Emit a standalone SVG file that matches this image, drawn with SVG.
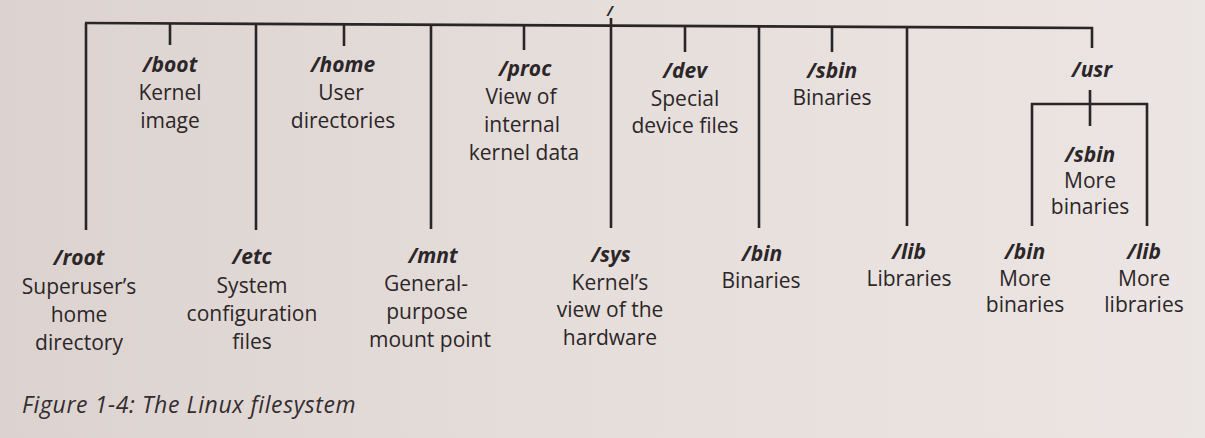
<svg xmlns="http://www.w3.org/2000/svg" width="1205" height="438" viewBox="0 0 1205 438">
  <defs>
    <linearGradient id="paper" x1="0" y1="0" x2="1" y2="0">
      <stop offset="0" stop-color="#dcd3d0"/>
      <stop offset="0.5" stop-color="#e6dedb"/>
      <stop offset="1" stop-color="#ebe5e3"/>
    </linearGradient>
    <style>
      .wire { stroke: #2a2628; stroke-width: 2.6; fill: none; stroke-linecap: butt; }
      text { font-family: "Open Sans", "Liberation Sans", sans-serif; fill: #2b2628; text-anchor: middle; }
      .name { font-weight: bold; font-style: italic; font-size: 21px; }
      .rootname { font-weight: bold; font-style: italic; font-size: 14px; }
      .desc { font-size: 21px; }
      .caption { font-style: italic; font-size: 23px; letter-spacing: 0.6px; text-anchor: start; fill: #332d2f; }
    </style>
  </defs>

  <rect x="0" y="0" width="1205" height="438" fill="url(#paper)"/>

  <!-- tree connectors -->
  <g id="connectors">
    <!-- root stem and main bar -->
    <line class="wire" x1="611" y1="18" x2="611" y2="27"/>
    <line class="wire" x1="85" y1="23" x2="1093" y2="28"/>
    <!-- long drops to the lower row -->
    <line class="wire" x1="86" y1="23" x2="86" y2="230"/>
    <line class="wire" x1="256" y1="24" x2="256" y2="230"/>
    <line class="wire" x1="431" y1="25" x2="431" y2="229"/>
    <line class="wire" x1="611" y1="26" x2="611" y2="228"/>
    <line class="wire" x1="759" y1="27" x2="759" y2="228"/>
    <line class="wire" x1="907" y1="27" x2="907" y2="226"/>
    <!-- short drops to the upper row -->
    <line class="wire" x1="170" y1="23" x2="170" y2="45"/>
    <line class="wire" x1="344" y1="24" x2="344" y2="46"/>
    <line class="wire" x1="524" y1="25" x2="524" y2="50"/>
    <line class="wire" x1="685" y1="26" x2="685" y2="52"/>
    <line class="wire" x1="832" y1="27" x2="832" y2="52"/>
    <line class="wire" x1="1092" y1="27" x2="1092" y2="48"/>
    <!-- /usr subtree -->
    <line class="wire" x1="1090" y1="90" x2="1090" y2="126"/>
    <line class="wire" x1="1031" y1="104" x2="1148" y2="104"/>
    <line class="wire" x1="1032" y1="103" x2="1032" y2="226"/>
    <line class="wire" x1="1147" y1="103" x2="1147" y2="226"/>
  </g>

  <g id="node-root">
    <text class="rootname" x="610" y="16">/</text>
  </g>

  <!-- upper row -->
  <g id="node-boot">
    <text class="name" x="170" y="72">/boot</text>
    <text class="desc" x="170" y="100">Kernel</text>
    <text class="desc" x="170" y="128">image</text>
  </g>
  <g id="node-home">
    <text class="name" x="343" y="72">/home</text>
    <text class="desc" x="341" y="100">User</text>
    <text class="desc" x="343" y="128">directories</text>
  </g>
  <g id="node-proc">
    <text class="name" x="525" y="76">/proc</text>
    <text class="desc" x="521" y="104">View of</text>
    <text class="desc" x="522" y="132">internal</text>
    <text class="desc" x="524" y="160">kernel data</text>
  </g>
  <g id="node-dev">
    <text class="name" x="685" y="78">/dev</text>
    <text class="desc" x="685" y="106">Special</text>
    <text class="desc" x="685" y="133">device files</text>
  </g>
  <g id="node-sbin">
    <text class="name" x="832" y="78">/sbin</text>
    <text class="desc" x="832" y="105">Binaries</text>
  </g>
  <g id="node-usr">
    <text class="name" x="1092" y="77">/usr</text>
  </g>
  <g id="node-usr-sbin">
    <text class="name" x="1090" y="162">/sbin</text>
    <text class="desc" x="1090" y="188">More</text>
    <text class="desc" x="1090" y="214">binaries</text>
  </g>

  <!-- lower row -->
  <g id="node-root-home">
    <text class="name" x="79" y="265">/root</text>
    <text class="desc" x="79" y="294">Superuser’s</text>
    <text class="desc" x="79" y="322">home</text>
    <text class="desc" x="79" y="350">directory</text>
  </g>
  <g id="node-etc">
    <text class="name" x="252" y="264">/etc</text>
    <text class="desc" x="252" y="293">System</text>
    <text class="desc" x="252" y="321">configuration</text>
    <text class="desc" x="252" y="349">files</text>
  </g>
  <g id="node-mnt">
    <text class="name" x="433" y="263">/mnt</text>
    <text class="desc" x="426" y="291">General-</text>
    <text class="desc" x="427" y="319">purpose</text>
    <text class="desc" x="430" y="347">mount point</text>
  </g>
  <g id="node-sys">
    <text class="name" x="611" y="262">/sys</text>
    <text class="desc" x="610" y="290">Kernel’s</text>
    <text class="desc" x="610" y="317">view of the</text>
    <text class="desc" x="610" y="345">hardware</text>
  </g>
  <g id="node-bin">
    <text class="name" x="762" y="261">/bin</text>
    <text class="desc" x="761" y="288">Binaries</text>
  </g>
  <g id="node-lib">
    <text class="name" x="909" y="259">/lib</text>
    <text class="desc" x="909" y="286">Libraries</text>
  </g>
  <g id="node-usr-bin">
    <text class="name" x="1025" y="259">/bin</text>
    <text class="desc" x="1025" y="286">More</text>
    <text class="desc" x="1025" y="312">binaries</text>
  </g>
  <g id="node-usr-lib">
    <text class="name" x="1144" y="259">/lib</text>
    <text class="desc" x="1144" y="286">More</text>
    <text class="desc" x="1144" y="312">libraries</text>
  </g>

  <text class="caption" x="22" y="413">Figure 1-4: The Linux filesystem</text>
</svg>
